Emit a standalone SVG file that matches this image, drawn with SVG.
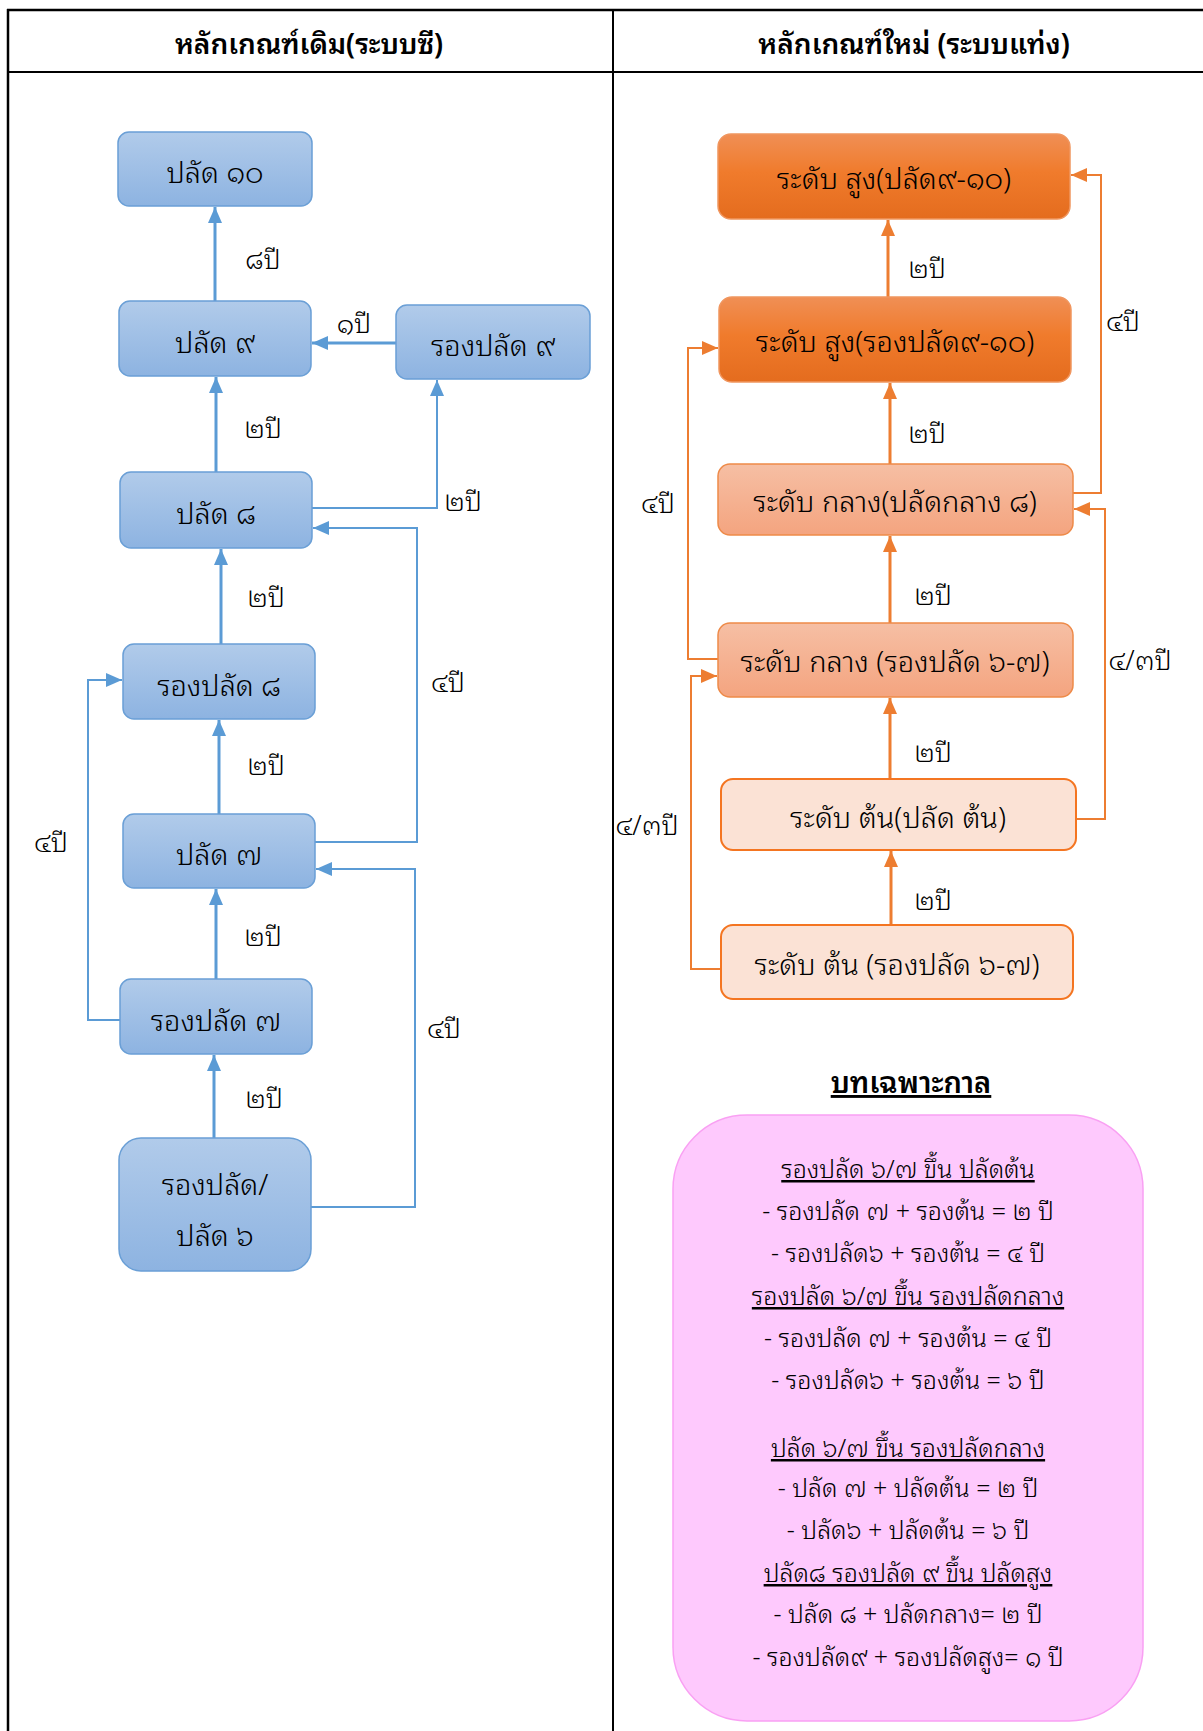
<svg xmlns="http://www.w3.org/2000/svg" width="1203" height="1731" viewBox="0 0 1203 1731">
<style>
text{font-family:"Noto Sans Thai Looped","Noto Sans Thai","Noto Sans",sans-serif;fill:#000;font-weight:300;}
.nt{font-size:29px;text-anchor:middle;}
.lb{font-size:27px;text-anchor:middle;}
.hd{font-size:28px;font-weight:600;text-anchor:middle;}
.tt{font-size:29px;font-weight:600;text-anchor:middle;text-decoration:underline;}
.lg{font-size:25px;text-anchor:middle;}
.lgu{font-size:25px;text-anchor:middle;text-decoration:underline;}
.bn{fill:url(#gBlue);stroke:#6A9FD6;stroke-width:1.5;}
.on{fill:url(#gDark);stroke:#F0965F;stroke-width:1.5;}
.mn{fill:url(#gMid);stroke:#EE8A48;stroke-width:1.5;}
.ln{fill:#FBE2D5;stroke:#F47521;stroke-width:2;}
.bm{fill:none;stroke:#5B9BD5;stroke-width:3;}
.bs{fill:none;stroke:#5B9BD5;stroke-width:2;}
.om{fill:none;stroke:#ED7D31;stroke-width:3;}
.os{fill:none;stroke:#ED7D31;stroke-width:2;}
.frame{stroke:#000;fill:none;}
</style>
<defs>
<linearGradient id="gBlue" x1="0" y1="0" x2="0" y2="1"><stop offset="0" stop-color="#B1CBEA"/><stop offset="1" stop-color="#8DB3E1"/></linearGradient>
<linearGradient id="gDark" x1="0" y1="0" x2="0" y2="1"><stop offset="0" stop-color="#F08F55"/><stop offset="0.45" stop-color="#F07B2C"/><stop offset="1" stop-color="#E46C1E"/></linearGradient>
<linearGradient id="gMid" x1="0" y1="0" x2="0" y2="1"><stop offset="0" stop-color="#F6BFA4"/><stop offset="1" stop-color="#F4A47F"/></linearGradient>
<marker id="ab" markerWidth="16" markerHeight="14" refX="16" refY="7" orient="auto" markerUnits="userSpaceOnUse"><path d="M0,0 L16,7 L0,14 z" fill="#5B9BD5"/></marker>
<marker id="ao" markerWidth="16" markerHeight="14" refX="16" refY="7" orient="auto" markerUnits="userSpaceOnUse"><path d="M0,0 L16,7 L0,14 z" fill="#ED7D31"/></marker>
</defs>
<rect width="1203" height="1731" fill="#fff"/>
<g id="frame">
<line class="frame" x1="7" y1="10" x2="1203" y2="10" stroke-width="2.5"/>
<line class="frame" x1="7" y1="72" x2="1203" y2="72" stroke-width="2"/>
<line class="frame" x1="8" y1="9" x2="8" y2="1731" stroke-width="2.5"/>
<line class="frame" x1="613" y1="10" x2="613" y2="1731" stroke-width="2"/>
<text class="hd" x="309" y="54">หลักเกณฑ์เดิม(ระบบซี)</text>
<text class="hd" x="914" y="54">หลักเกณฑ์ใหม่ (ระบบแท่ง)</text>
</g>
<g id="connectors">
<path class="bm" d="M215,301 V207" marker-end="url(#ab)"/>
<path class="bm" d="M396,343 H312" marker-end="url(#ab)"/>
<path class="bm" d="M216,472 V377" marker-end="url(#ab)"/>
<path class="bs" d="M312,508 H437 V380" marker-end="url(#ab)"/>
<path class="bm" d="M221,644 V549" marker-end="url(#ab)"/>
<path class="bs" d="M315,842 H417 V528 H313" marker-end="url(#ab)"/>
<path class="bm" d="M219,814 V720" marker-end="url(#ab)"/>
<path class="bs" d="M120,1020 H88 V680 H122" marker-end="url(#ab)"/>
<path class="bm" d="M216,979 V889" marker-end="url(#ab)"/>
<path class="bs" d="M311,1207 H415 V869 H316" marker-end="url(#ab)"/>
<path class="bm" d="M214,1138 V1055" marker-end="url(#ab)"/>
<path class="om" d="M888,297 V220" marker-end="url(#ao)"/>
<path class="om" d="M890,464 V383" marker-end="url(#ao)"/>
<path class="om" d="M890,623 V536" marker-end="url(#ao)"/>
<path class="om" d="M890,779 V698" marker-end="url(#ao)"/>
<path class="om" d="M891,925 V851" marker-end="url(#ao)"/>
<path class="os" d="M1073,493 H1101 V175 H1071" marker-end="url(#ao)"/>
<path class="os" d="M1076,819 H1105 V509 H1074" marker-end="url(#ao)"/>
<path class="os" d="M718,659 H688 V348 H718" marker-end="url(#ao)"/>
<path class="os" d="M721,969 H691 V676 H717" marker-end="url(#ao)"/>
<text class="lb" x="263" y="269">๘ปี</text>
<text class="lb" x="354" y="333">๑ปี</text>
<text class="lb" x="263" y="438">๒ปี</text>
<text class="lb" x="463" y="511">๒ปี</text>
<text class="lb" x="266" y="607">๒ปี</text>
<text class="lb" x="448" y="692">๔ปี</text>
<text class="lb" x="266" y="775">๒ปี</text>
<text class="lb" x="51" y="852">๔ปี</text>
<text class="lb" x="263" y="946">๒ปี</text>
<text class="lb" x="444" y="1038">๔ปี</text>
<text class="lb" x="264" y="1108">๒ปี</text>
<text class="lb" x="927" y="278">๒ปี</text>
<text class="lb" x="927" y="443">๒ปี</text>
<text class="lb" x="933" y="605">๒ปี</text>
<text class="lb" x="933" y="762">๒ปี</text>
<text class="lb" x="933" y="910">๒ปี</text>
<text class="lb" x="1123" y="331">๔ปี</text>
<text class="lb" x="1140" y="670">๔/๓ปี</text>
<text class="lb" x="658" y="513">๔ปี</text>
<text class="lb" x="647" y="835">๔/๓ปี</text>
</g>
<g id="n-palat10"><rect class="bn" x="118" y="132" width="194" height="74" rx="11"/><text class="nt" x="215" y="183">ปลัด ๑๐</text></g>
<g id="n-palat9"><rect class="bn" x="119" y="301" width="192" height="75" rx="11"/><text class="nt" x="215" y="353">ปลัด ๙</text></g>
<g id="n-rongpalat9"><rect class="bn" x="396" y="305" width="194" height="74" rx="11"/><text class="nt" x="493" y="356">รองปลัด ๙</text></g>
<g id="n-palat8"><rect class="bn" x="120" y="472" width="192" height="76" rx="11"/><text class="nt" x="216" y="524">ปลัด ๘</text></g>
<g id="n-rongpalat8"><rect class="bn" x="123" y="644" width="192" height="75" rx="11"/><text class="nt" x="219" y="696">รองปลัด ๘</text></g>
<g id="n-palat7"><rect class="bn" x="123" y="814" width="192" height="74" rx="11"/><text class="nt" x="219" y="865">ปลัด ๗</text></g>
<g id="n-rongpalat7"><rect class="bn" x="120" y="979" width="192" height="75" rx="11"/><text class="nt" x="216" y="1031">รองปลัด ๗</text></g>
<g id="n-palat6"><rect class="bn" x="119" y="1138" width="192" height="133" rx="22"/><text class="nt" x="215" y="1195">รองปลัด/</text><text class="nt" x="215" y="1246">ปลัด ๖</text></g>
<g id="n-high-palat"><rect class="on" x="718" y="134" width="352" height="85" rx="13"/><text class="nt" x="894" y="189">ระดับ สูง(ปลัด๙-๑๐)</text></g>
<g id="n-high-rong"><rect class="on" x="719" y="297" width="352" height="85" rx="13"/><text class="nt" x="895" y="352">ระดับ สูง(รองปลัด๙-๑๐)</text></g>
<g id="n-mid-palat"><rect class="mn" x="718" y="464" width="355" height="71" rx="12"/><text class="nt" x="895" y="512">ระดับ กลาง(ปลัดกลาง ๘)</text></g>
<g id="n-mid-rong"><rect class="mn" x="718" y="623" width="355" height="74" rx="12"/><text class="nt" x="895" y="672">ระดับ กลาง (รองปลัด ๖-๗)</text></g>
<g id="n-low-palat"><rect class="ln" x="721" y="779" width="355" height="71" rx="12"/><text class="nt" x="898" y="828">ระดับ ต้น(ปลัด ต้น)</text></g>
<g id="n-low-rong"><rect class="ln" x="721" y="925" width="352" height="74" rx="12"/><text class="nt" x="897" y="975">ระดับ ต้น (รองปลัด ๖-๗)</text></g>
<g id="legend">
<text class="tt" x="911" y="1093">บทเฉพาะกาล</text>
<rect x="673" y="1115" width="470" height="606" rx="74" fill="#FEC9FD" stroke="#F9A0F3" stroke-width="1.5"/>
<text class="lgu" x="908" y="1178">รองปลัด ๖/๗ ขึ้น ปลัดต้น</text>
<text class="lg" x="908" y="1220">- รองปลัด ๗ + รองต้น = ๒ ปี</text>
<text class="lg" x="908" y="1262">- รองปลัด๖ + รองต้น = ๔ ปี</text>
<text class="lgu" x="908" y="1305">รองปลัด ๖/๗ ขึ้น รองปลัดกลาง</text>
<text class="lg" x="908" y="1347">- รองปลัด ๗ + รองต้น = ๔ ปี</text>
<text class="lg" x="908" y="1389">- รองปลัด๖ + รองต้น = ๖ ปี</text>
<text class="lgu" x="908" y="1457">ปลัด ๖/๗  ขึ้น รองปลัดกลาง</text>
<text class="lg" x="908" y="1497">- ปลัด ๗ + ปลัดต้น = ๒ ปี</text>
<text class="lg" x="908" y="1539">- ปลัด๖ + ปลัดต้น = ๖ ปี</text>
<text class="lgu" x="908" y="1582">ปลัด๘ รองปลัด ๙  ขึ้น ปลัดสูง</text>
<text class="lg" x="908" y="1623">- ปลัด ๘ + ปลัดกลาง= ๒ ปี</text>
<text class="lg" x="908" y="1666">- รองปลัด๙ + รองปลัดสูง= ๑ ปี</text>
</g>
</svg>
